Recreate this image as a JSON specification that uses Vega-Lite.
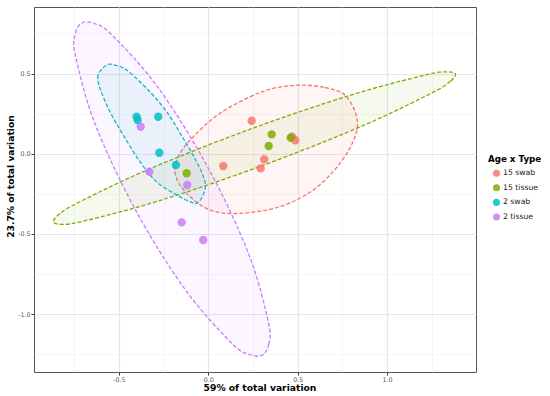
{
  "$schema": "https://vega.github.io/schema/vega-lite/v6.json",
  "autosize": "none",
  "width": 442,
  "height": 365,
  "padding": {"left": 34, "top": 7, "right": 74, "bottom": 24},
  "background": "white",
  "config": {
    "font": "DejaVu Sans",
    "view": {"stroke": "#555555", "strokeWidth": 1}
  },
  "datasets": {
    "pts": [
      {"group": "15 swab", "x": 0.243, "y": 0.206},
      {"group": "15 swab", "x": 0.468, "y": 0.106},
      {"group": "15 swab", "x": 0.487, "y": 0.084},
      {"group": "15 swab", "x": 0.313, "y": -0.035},
      {"group": "15 swab", "x": 0.293, "y": -0.091},
      {"group": "15 swab", "x": 0.084, "y": -0.077},
      {"group": "15 tissue", "x": -0.121, "y": -0.122},
      {"group": "15 tissue", "x": 0.355, "y": 0.121},
      {"group": "15 tissue", "x": 0.338, "y": 0.048},
      {"group": "15 tissue", "x": 0.461, "y": 0.100},
      {"group": "2 swab", "x": -0.401, "y": 0.231},
      {"group": "2 swab", "x": -0.395, "y": 0.210},
      {"group": "2 swab", "x": -0.280, "y": 0.231},
      {"group": "2 swab", "x": -0.274, "y": 0.006},
      {"group": "2 swab", "x": -0.181, "y": -0.070},
      {"group": "2 tissue", "x": -0.378, "y": 0.168},
      {"group": "2 tissue", "x": -0.330, "y": -0.112},
      {"group": "2 tissue", "x": -0.118, "y": -0.195},
      {"group": "2 tissue", "x": -0.149, "y": -0.428},
      {"group": "2 tissue", "x": -0.028, "y": -0.538}
    ],
    "ell": [
      {"grp": "15 swab", "i": 1, "x": 0.513, "y": 0.428},
      {"grp": "15 swab", "i": 2, "x": 0.653, "y": 0.413},
      {"grp": "15 swab", "i": 3, "x": 0.765, "y": 0.366},
      {"grp": "15 swab", "i": 4, "x": 0.830, "y": 0.231},
      {"grp": "15 swab", "i": 5, "x": 0.821, "y": 0.106},
      {"grp": "15 swab", "i": 6, "x": 0.737, "y": -0.060},
      {"grp": "15 swab", "i": 7, "x": 0.588, "y": -0.226},
      {"grp": "15 swab", "i": 8, "x": 0.401, "y": -0.330},
      {"grp": "15 swab", "i": 9, "x": 0.177, "y": -0.372},
      {"grp": "15 swab", "i": 10, "x": 0.010, "y": -0.351},
      {"grp": "15 swab", "i": 11, "x": -0.121, "y": -0.247},
      {"grp": "15 swab", "i": 12, "x": -0.186, "y": -0.122},
      {"grp": "15 swab", "i": 13, "x": -0.158, "y": 0.002},
      {"grp": "15 swab", "i": 14, "x": -0.065, "y": 0.127},
      {"grp": "15 swab", "i": 15, "x": 0.065, "y": 0.252},
      {"grp": "15 swab", "i": 16, "x": 0.233, "y": 0.355},
      {"grp": "15 swab", "i": 17, "x": 0.364, "y": 0.408},
      {"grp": "15 tissue", "i": 1, "x": 1.383, "y": 0.497},
      {"grp": "15 tissue", "i": 2, "x": 1.355, "y": 0.452},
      {"grp": "15 tissue", "i": 3, "x": 1.251, "y": 0.379},
      {"grp": "15 tissue", "i": 4, "x": 0.853, "y": 0.169},
      {"grp": "15 tissue", "i": 5, "x": 0.295, "y": -0.077},
      {"grp": "15 tissue", "i": 6, "x": -0.271, "y": -0.292},
      {"grp": "15 tissue", "i": 7, "x": -0.697, "y": -0.420},
      {"grp": "15 tissue", "i": 8, "x": -0.819, "y": -0.440},
      {"grp": "15 tissue", "i": 9, "x": -0.866, "y": -0.426},
      {"grp": "15 tissue", "i": 10, "x": -0.838, "y": -0.381},
      {"grp": "15 tissue", "i": 11, "x": -0.734, "y": -0.308},
      {"grp": "15 tissue", "i": 12, "x": -0.336, "y": -0.098},
      {"grp": "15 tissue", "i": 13, "x": 0.222, "y": 0.148},
      {"grp": "15 tissue", "i": 14, "x": 0.789, "y": 0.363},
      {"grp": "15 tissue", "i": 15, "x": 1.214, "y": 0.491},
      {"grp": "15 tissue", "i": 16, "x": 1.336, "y": 0.511},
      {"grp": "2 swab", "i": 1, "x": -0.569, "y": 0.553},
      {"grp": "2 swab", "i": 2, "x": -0.616, "y": 0.491},
      {"grp": "2 swab", "i": 3, "x": -0.606, "y": 0.408},
      {"grp": "2 swab", "i": 4, "x": -0.550, "y": 0.262},
      {"grp": "2 swab", "i": 5, "x": -0.476, "y": 0.117},
      {"grp": "2 swab", "i": 6, "x": -0.382, "y": -0.050},
      {"grp": "2 swab", "i": 7, "x": -0.289, "y": -0.175},
      {"grp": "2 swab", "i": 8, "x": -0.177, "y": -0.257},
      {"grp": "2 swab", "i": 9, "x": -0.102, "y": -0.299},
      {"grp": "2 swab", "i": 10, "x": -0.063, "y": -0.309},
      {"grp": "2 swab", "i": 11, "x": -0.028, "y": -0.257},
      {"grp": "2 swab", "i": 12, "x": -0.018, "y": -0.175},
      {"grp": "2 swab", "i": 13, "x": -0.065, "y": -0.050},
      {"grp": "2 swab", "i": 14, "x": -0.140, "y": 0.096},
      {"grp": "2 swab", "i": 15, "x": -0.233, "y": 0.262},
      {"grp": "2 swab", "i": 16, "x": -0.345, "y": 0.408},
      {"grp": "2 swab", "i": 17, "x": -0.457, "y": 0.522},
      {"grp": "2 swab", "i": 18, "x": -0.522, "y": 0.553},
      {"grp": "2 tissue", "i": 1, "x": 0.302, "y": -1.256},
      {"grp": "2 tissue", "i": 2, "x": 0.338, "y": -1.188},
      {"grp": "2 tissue", "i": 3, "x": 0.337, "y": -1.055},
      {"grp": "2 tissue", "i": 4, "x": 0.228, "y": -0.630},
      {"grp": "2 tissue", "i": 5, "x": 0.003, "y": -0.095},
      {"grp": "2 tissue", "i": 6, "x": -0.276, "y": 0.406},
      {"grp": "2 tissue", "i": 7, "x": -0.537, "y": 0.739},
      {"grp": "2 tissue", "i": 8, "x": -0.637, "y": 0.812},
      {"grp": "2 tissue", "i": 9, "x": -0.708, "y": 0.815},
      {"grp": "2 tissue", "i": 10, "x": -0.744, "y": 0.748},
      {"grp": "2 tissue", "i": 11, "x": -0.744, "y": 0.615},
      {"grp": "2 tissue", "i": 12, "x": -0.635, "y": 0.190},
      {"grp": "2 tissue", "i": 13, "x": -0.410, "y": -0.345},
      {"grp": "2 tissue", "i": 14, "x": -0.130, "y": -0.846},
      {"grp": "2 tissue", "i": 15, "x": 0.130, "y": -1.180},
      {"grp": "2 tissue", "i": 16, "x": 0.231, "y": -1.252}
    ]
  },
  "encoding": {
    "x": {
      "field": "x", "type": "quantitative",
      "scale": {"domain": [-0.975, 1.498], "nice": false, "zero": false},
      "axis": {
        "title": "59% of total variation",
        "values": [-0.75, -0.5, -0.25, 0, 0.25, 0.5, 0.75, 1, 1.25],
        "labelExpr": "datum.value % 0.5 == 0 ? replace(format(datum.value, '.1f'), '\u2212', '-') : ''",
        "labelFontSize": 6.3, "labelColor": "#555555", "labelPadding": 1,
        "tickSize": 3, "tickColor": "#333333",
        "tickOpacity": {"condition": {"test": "datum.value % 0.5 == 0", "value": 1}, "value": 0},
        "domain": false,
        "grid": true,
        "gridColor": {"condition": {"test": "datum.value % 0.5 == 0", "value": "#e6e6e6"}, "value": "#f0f0f0"},
        "gridWidth": {"condition": {"test": "datum.value % 0.5 == 0", "value": 1.2}, "value": 0.7},
        "titleFontSize": 9.2, "titleFontWeight": "bold", "titleColor": "#000000",
        "titleX": 225.5, "titleY": 15, "titleBaseline": "middle", "titleAlign": "center"
      }
    },
    "y": {
      "field": "y", "type": "quantitative",
      "scale": {"domain": [-1.361, 0.915], "nice": false, "zero": false},
      "axis": {
        "title": "23.7% of total variation",
        "values": [-1.25, -1, -0.75, -0.5, -0.25, 0, 0.25, 0.5, 0.75],
        "labelExpr": "datum.value % 0.5 == 0 ? replace(format(datum.value, '.1f'), '\u2212', '-') : ''",
        "labelFontSize": 6.3, "labelColor": "#555555", "labelPadding": 1,
        "tickSize": 3, "tickColor": "#333333",
        "tickOpacity": {"condition": {"test": "datum.value % 0.5 == 0", "value": 1}, "value": 0},
        "domain": false,
        "grid": true,
        "gridColor": {"condition": {"test": "datum.value % 0.5 == 0", "value": "#e6e6e6"}, "value": "#f0f0f0"},
        "gridWidth": {"condition": {"test": "datum.value % 0.5 == 0", "value": 1.2}, "value": 0.7},
        "titleFontSize": 9.2, "titleFontWeight": "bold", "titleColor": "#000000",
        "titleX": -19, "titleY": 169, "titleAlign": "center", "titleBaseline": "bottom"
      }
    }
  },
  "layer": [
    {
      "data": {"name": "ell"},
      "mark": {"type": "line", "interpolate": "cardinal-closed", "strokeDash": [4, 2], "strokeWidth": 1.3, "fillOpacity": 0.07},
      "encoding": {
        "order": {"field": "i", "type": "quantitative"},
        "detail": {"field": "grp"},
        "stroke": {"field": "grp", "type": "nominal", "legend": null,
          "scale": {"range": ["#F8766D", "#7CAE00", "#00BFC4", "#C77CFF"]}},
        "fill": {"field": "grp", "type": "nominal", "legend": null,
          "scale": {"range": ["#F8766D", "#7CAE00", "#00BFC4", "#C77CFF"]}}
      }
    },
    {
      "data": {"name": "pts"},
      "mark": {"type": "circle", "size": 70, "opacity": 0.85},
      "encoding": {
        "color": {
          "field": "group", "type": "nominal",
          "scale": {"domain": ["15 swab", "15 tissue", "2 swab", "2 tissue"], "range": ["#F8766D", "#7CAE00", "#00BFC4", "#C77CFF"]},
          "legend": {
            "title": "Age x Type", "orient": "none", "legendX": 454, "legendY": 148,
            "titleFontSize": 8.7, "titleFontWeight": "bold", "titleColor": "#000000", "titlePadding": 5,
            "labelFontSize": 7.7, "labelColor": "#222222", "labelOffset": 2,
            "symbolSize": 50, "symbolOffset": 4, "symbolOpacity": 0.85, "rowPadding": 5.6, "padding": 0
          }
        }
      }
    }
  ]
}
